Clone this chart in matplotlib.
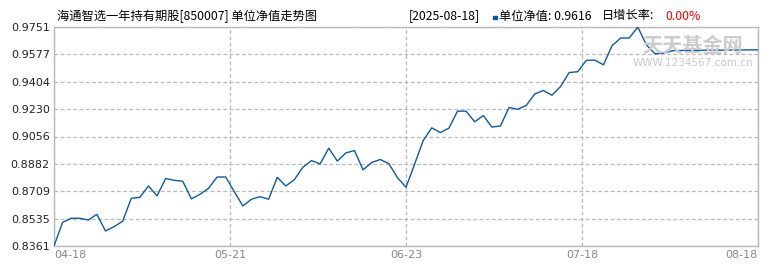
import numpy as np
import matplotlib
matplotlib.use('Agg')
import matplotlib.pyplot as plt

plt.rcParams['font.family'] = ['Noto Sans CJK SC', 'DejaVu Sans']

# unit NAV, one point per trading day, 2025-04-18 .. 2025-08-18
nav = [
    0.8361, 0.8511, 0.8537, 0.8537, 0.8526, 0.8562, 0.8456, 0.8484, 0.8518, 0.8664,
    0.8670, 0.8742, 0.8679, 0.8789, 0.8778, 0.8772, 0.8660, 0.8689, 0.8727, 0.8799,
    0.8799, 0.8706, 0.8615, 0.8658, 0.8674, 0.8658, 0.8797, 0.8742, 0.8782, 0.8862,
    0.8903, 0.8882, 0.8982, 0.8900, 0.8952, 0.8967, 0.8844, 0.8891, 0.8910, 0.8884,
    0.8795, 0.8734, 0.8880, 0.9030, 0.9111, 0.9081, 0.9109, 0.9217, 0.9217, 0.9149,
    0.9189, 0.9116, 0.9123, 0.9240, 0.9229, 0.9253, 0.9326, 0.9348, 0.9318, 0.9373,
    0.9462, 0.9467, 0.9539, 0.9541, 0.9511, 0.9632, 0.9681, 0.9681, 0.9751, 0.9638,
    0.9581, 0.9585, 0.9600, 0.9602, 0.9603, 0.9603, 0.9604, 0.9604, 0.9604, 0.9605,
    0.9605, 0.9606, 0.9606,
]
x_labels = ['04-18', '05-21', '06-23', '07-18', '08-18']
y_labels = ['0.8361', '0.8535', '0.8709', '0.8882', '0.9056',
            '0.9230', '0.9404', '0.9577', '0.9751']
y_min, y_max = 0.8361, 0.9751
fund_name = '海通智选一年持有期股[850007] 单位净值走势图'
last_date = '2025-08-18'
last_nav = '0.9616'
day_growth = '0.00%'

W, H = 770, 270


def px(x, y):
    return x / W, 1 - y / H


def main():
    fig = plt.figure(figsize=(W / 100, H / 100), dpi=100)
    ax = fig.add_axes([54 / W, 1 - 246 / H, 704 / W, 219 / H])

    xs = np.arange(len(nav))
    ax.plot(xs, nav, color='#0b5aa8', linewidth=1.0, zorder=3)

    ax.set_xlim(0, len(nav) - 1)
    ax.set_ylim(y_min, y_max)
    yt = np.linspace(y_min, y_max, len(y_labels))
    ax.set_yticks(yt)
    ax.set_yticklabels(y_labels, fontsize=8, color='#222222', family='DejaVu Sans')
    xt = np.linspace(0, len(nav) - 1, len(x_labels))
    ax.set_xticks(xt)
    ax.set_xticklabels(x_labels, fontsize=8, color='#888888', family='DejaVu Sans')
    ax.tick_params(length=0, pad=3)
    xl = ax.get_xticklabels()
    xl[0].set_horizontalalignment('left')
    xl[-1].set_horizontalalignment('right')

    ax.grid(True, color='#b8b8b8', linestyle=(0, (3, 2)), linewidth=0.9)
    for s in ax.spines.values():
        s.set_color('#b8b8b8')
        s.set_linewidth(1.0)

    # watermark
    fig.text(*px(693, 45), '天天基金网', fontsize=14.5, color='#cccccc',
             ha='center', va='center', fontweight='bold', zorder=1)
    fig.text(*px(693, 63), 'WWW.1234567.com.cn', fontsize=7.5, color='#c8c8c8',
             ha='center', va='center', family='DejaVu Sans')

    # header
    fig.text(*px(57, 16), fund_name, fontsize=8.8, va='center', ha='left')
    fig.text(*px(409, 16), '[' + last_date + ']', fontsize=8.8, va='center', ha='left')
    fig.patches.append(plt.Rectangle(px(493, 19), 4 / W, 3 / H, transform=fig.transFigure,
                                     color='#0b5aa8', figure=fig))
    fig.text(*px(499, 16), '单位净值: ' + last_nav, fontsize=8.8, va='center', ha='left')
    fig.text(*px(602, 16), '日增长率:', fontsize=8.8, va='center', ha='left')
    fig.text(*px(665, 16), day_growth, fontsize=8.8, va='center', ha='left', color='#ff0000')

    fig.savefig('out.png', dpi=100)


if __name__ == '__main__':
    main()
